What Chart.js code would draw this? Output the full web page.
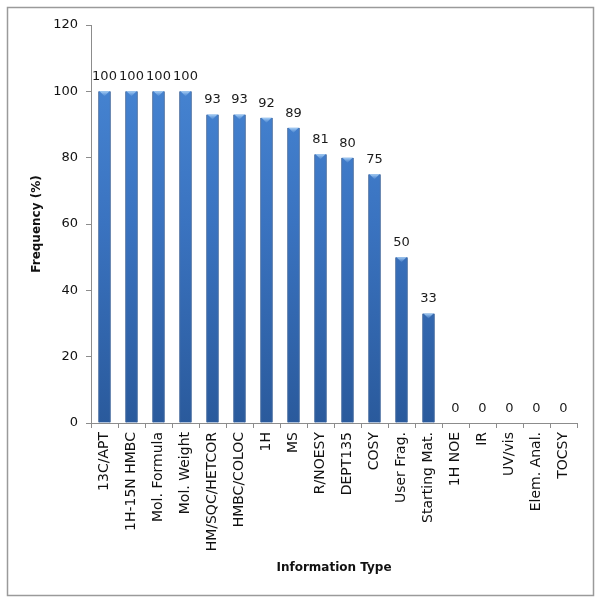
<!DOCTYPE html>
<html>
<head>
<meta charset="utf-8">
<script src="https://cdn.jsdelivr.net/npm/chart.js@4/dist/chart.umd.min.js"></script>
<style>
html,body{margin:0;padding:0;background:#fff;}
#wrap{width:600px;height:604px;position:relative;}
</style>
</head>
<body>
<div id="wrap"><canvas id="c" width="600" height="604"></canvas></div>
<script>
const categories = ["13C/APT","1H-15N HMBC","Mol. Formula","Mol. Weight","HM/SQC/HETCOR","HMBC/COLOC","1H","MS","R/NOESY","DEPT135","COSY","User Frag.","Starting Mat.","1H NOE","IR","UV/vis","Elem. Anal.","TOCSY"];
const frequency = [100,100,100,100,93,93,92,89,81,80,75,50,33,0,0,0,0,0];
const yTicks = [0,20,40,60,80,100,120];

const FONT = "'DejaVu Sans', Verdana, sans-serif";

const borderPlugin = {
  id: 'outerBorder',
  beforeDraw(chart) {
    const ctx = chart.ctx;
    ctx.save();
    ctx.fillStyle = '#fff';
    ctx.fillRect(0,0,chart.width,chart.height);
    ctx.strokeStyle = '#9a9a9a';
    ctx.lineWidth = 1.5;
    ctx.strokeRect(7.5,7.5,586,588);
    ctx.restore();
  }
};

const labelPlugin = {
  id: 'valueLabels',
  afterDatasetsDraw(chart) {
    const ctx = chart.ctx;
    const meta = chart.getDatasetMeta(0);
    ctx.save();
    // highlight caps on bar tops
    meta.data.forEach((el, i) => {
      if (frequency[i] <= 0) return;
      const g = ctx.createLinearGradient(0, el.y, 0, el.y + 6);
      g.addColorStop(0, '#a9d0f5');
      g.addColorStop(1, 'rgba(120,170,230,0)');
      ctx.fillStyle = g;
      ctx.beginPath();
      ctx.moveTo(el.x - 5, el.y);
      ctx.lineTo(el.x + 5, el.y);
      ctx.lineTo(el.x, el.y + 5);
      ctx.closePath();
      ctx.fill();
    });
    ctx.font = "13px " + FONT;
    ctx.fillStyle = '#1a1a1a';
    ctx.textAlign = 'center';
    ctx.textBaseline = 'bottom';
    meta.data.forEach((el, i) => {
      ctx.fillText(String(frequency[i]), el.x, el.y - 8);
    });
    ctx.restore();
  }
};

new Chart(document.getElementById('c'), {
  type: 'bar',
  data: {
    labels: categories,
    datasets: [{
      data: frequency,
      barThickness: 12,
      borderWidth: { left: 1, right: 1, top: 0, bottom: 0 },
      borderColor: '#2a5590',
      backgroundColor: (c) => {
        const chart = c.chart;
        const ca = chart.chartArea;
        if (!ca) return '#3a74c2';
        const g = chart.ctx.createLinearGradient(0, ca.top, 0, ca.bottom);
        g.addColorStop(0, '#4a8ad8');
        g.addColorStop(0.5, '#3a73c0');
        g.addColorStop(1, '#2a5a9c');
        return g;
      }
    }]
  },
  options: {
    responsive: false,
    animation: false,
    layout: { padding: { left: 0, right: 23, top: 25, bottom: 0 } },
    plugins: { legend: { display: false }, tooltip: { enabled: false } },
    scales: {
      x: {
        offset: true,
        afterFit: (s) => { s.height = 181; },
        grid: { offset: true, drawOnChartArea: false, drawTicks: true, tickLength: 5, color: '#8c8c8c' },
        border: { display: true, color: '#8c8c8c', width: 1 },
        ticks: { minRotation: 90, maxRotation: 90, autoSkip: false, padding: 4, color: '#111', font: { family: FONT, size: 14 } },
        title: { display: true, text: 'Information Type', color: '#111', font: { family: FONT, size: 12, weight: 'bold' }, padding: 29 }
      },
      y: {
        min: 0, max: 120,
        afterFit: (s) => { s.width = 91; },
        afterBuildTicks: (s) => { s.ticks = yTicks.map(v => ({ value: v })); },
        grid: { drawOnChartArea: false, drawTicks: true, tickLength: 5, color: '#8c8c8c' },
        border: { display: true, color: '#8c8c8c', width: 1 },
        ticks: { padding: 8, color: '#111', font: { family: FONT, size: 13 } },
        title: { display: true, text: 'Frequency (%)', color: '#111', font: { family: FONT, size: 12, weight: 'bold' }, padding: 30 }
      }
    }
  },
  plugins: [borderPlugin, labelPlugin]
});
</script>
</body>
</html>
